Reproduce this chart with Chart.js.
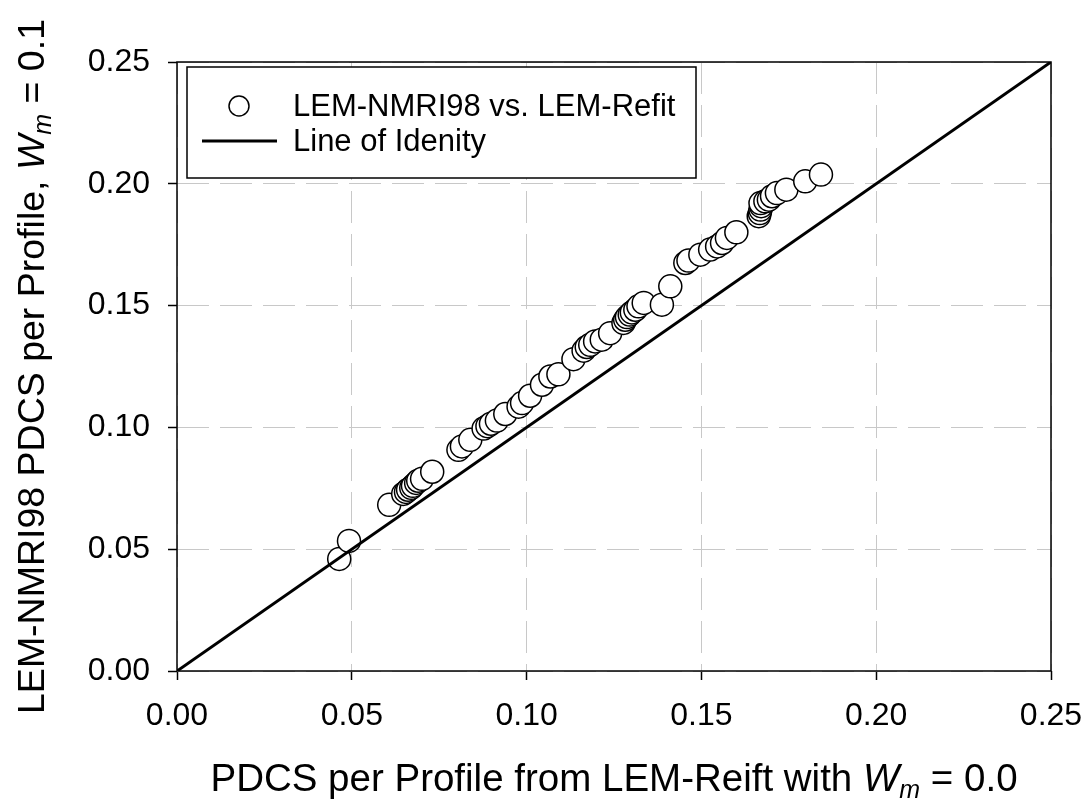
<!DOCTYPE html>
<html><head><meta charset="utf-8">
<script src="https://cdn.jsdelivr.net/npm/chart.js@4.4.0/dist/chart.umd.min.js"></script>
<style>html,body{margin:0;padding:0;background:#fff}#wrap{width:1090px;height:805px}</style>
</head><body><div id="wrap"><canvas id="c" width="1090" height="805"></canvas></div>
<script>
const xValues = [0.0464,0.0492,0.0607,0.0647,0.0655,0.0661,0.0670,0.0675,0.0684,0.0690,0.0701,0.0730,
  0.0805,0.0815,0.0839,0.0877,0.0888,0.0898,0.0915,0.0939,0.0977,0.0987,0.1010,0.1044,0.1068,0.1091,0.1134,
  0.1163,0.1172,0.1182,0.1196,0.1215,0.1239,0.1277,0.1282,0.1287,0.1295,0.1301,0.1311,0.1320,0.1335,0.1387,0.1411,
  0.1454,0.1463,0.1497,0.1525,0.1545,0.1559,0.1573,0.1600,
  0.1664,0.1667,0.1669,0.1671,0.1669,0.1683,0.1693,0.1702,0.1716,0.1743,0.1797,0.1842];
const yValues = [0.0460,0.0534,0.0682,0.0727,0.0735,0.0744,0.0752,0.0760,0.0772,0.0781,0.0789,0.0818,
  0.0908,0.0922,0.0949,0.0995,0.1005,0.1015,0.1028,0.1055,0.1085,0.1100,0.1130,0.1175,0.1209,0.1218,0.1280,
  0.1315,0.1330,0.1339,0.1353,0.1360,0.1387,0.1429,0.1442,0.1453,0.1463,0.1472,0.1483,0.1497,0.1511,0.1504,0.1579,
  0.1675,0.1685,0.1709,0.1730,0.1743,0.1757,0.1778,0.1801,
  0.1867,0.1880,0.1894,0.1908,0.1921,0.1928,0.1935,0.1949,0.1962,0.1976,0.2010,0.2038];
const identityX = [0, 0.25];
const identityY = [0, 0.25];
const tickValues = [0, 0.05, 0.10, 0.15, 0.20, 0.25];
const seriesLabels = ['LEM-NMRI98 vs. LEM-Refit', 'Line of Idenity'];
const xTitleParts = ['PDCS per Profile from LEM-Reift with ', 'W', 'm', ' = 0.0'];
const yTitleParts = ['LEM-NMRI98 PDCS per Profile, ', 'W', 'm', ' = 0.1'];

const FAM = '"Liberation Sans", Arial, sans-serif';
const TICK_SIZE = 32, LEG_SIZE = 31;

function drawParts(ctx, parts, cx, by, size) {
  const sub = Math.round(size * 0.66);
  const fonts = [
    `${size}px ${FAM}`,
    `italic ${size}px ${FAM}`,
    `italic ${sub}px ${FAM}`,
    `${size}px ${FAM}`
  ];
  const offs = [0, 0, 7, 0];
  let total = 0; const w = [];
  parts.forEach((p, i) => { ctx.font = fonts[i]; w[i] = ctx.measureText(p).width; total += w[i]; });
  let x = cx - total / 2;
  ctx.fillStyle = '#000'; ctx.textAlign = 'left'; ctx.textBaseline = 'alphabetic';
  parts.forEach((p, i) => { ctx.font = fonts[i]; ctx.fillText(p, x, by + offs[i]); x += w[i]; });
}

const decor = {
  id: 'decor',
  afterDatasetsDraw(chart) {
    const {ctx, chartArea: a} = chart;
    ctx.save();
    ctx.strokeStyle = '#000'; ctx.lineWidth = 1.5;
    ctx.strokeRect(a.left, a.top, a.right - a.left, a.bottom - a.top);
    // legend
    const lx = 187, ly = 67, lw = 509, lh = 111;
    ctx.fillStyle = '#fff'; ctx.fillRect(lx, ly, lw, lh);
    ctx.strokeRect(lx, ly, lw, lh);
    ctx.beginPath(); ctx.arc(239, 106, 10, 0, Math.PI * 2);
    ctx.fillStyle = '#fff'; ctx.fill(); ctx.lineWidth = 1.5; ctx.stroke();
    ctx.beginPath(); ctx.moveTo(202, 141); ctx.lineTo(277, 141); ctx.lineWidth = 3; ctx.stroke();
    ctx.fillStyle = '#000'; ctx.font = `${LEG_SIZE}px ${FAM}`;
    ctx.textAlign = 'left'; ctx.textBaseline = 'alphabetic';
    ctx.fillText(seriesLabels[0], 293, 116);
    ctx.fillText(seriesLabels[1], 293, 151);
    // axis titles
    const cx = (a.left + a.right) / 2, cy = (a.top + a.bottom) / 2;
    drawParts(ctx, xTitleParts, cx, 791, 38.5);
    ctx.translate(44, cy); ctx.rotate(-Math.PI / 2);
    drawParts(ctx, yTitleParts, 0, 0, 37.5);
    ctx.restore();
  }
};

const gridCommon = {
  color: '#c8c8c8', lineWidth: 1,
  tickColor: '#000', tickLength: 9, tickWidth: 1.5, tickBorderDash: []
};

new Chart(document.getElementById('c'), {
  type: 'scatter',
  data: {
    datasets: [
      {
        type: 'line', label: seriesLabels[1], order: 0,
        data: identityX.map((x, i) => ({x, y: identityY[i]})),
        borderColor: '#000', borderWidth: 3, pointRadius: 0, fill: false, tension: 0
      },
      {
        label: seriesLabels[0], order: 1,
        data: xValues.map((x, i) => ({x, y: yValues[i]})),
        pointRadius: 11.5, pointHoverRadius: 11.5,
        backgroundColor: '#fff', borderColor: '#000', borderWidth: 1.5
      }
    ]
  },
  options: {
    responsive: false, animation: false, devicePixelRatio: 1,
    layout: {padding: {left: 0, right: 39, top: 62, bottom: 0}},
    plugins: {legend: {display: false}, tooltip: {enabled: false}},
    scales: {
      x: {
        type: 'linear', min: 0, max: 0.25,
        afterFit: s => { s.height = 134; s.paddingLeft = 0; s.paddingRight = 0; },
        afterBuildTicks: s => { s.ticks = tickValues.map(v => ({value: v})); },
        ticks: {color: '#000', padding: 17, font: {family: FAM, size: TICK_SIZE}, maxRotation: 0,
                callback: v => v.toFixed(2)},
        grid: gridCommon,
        border: {display: false, dash: [32, 11]}
      },
      y: {
        type: 'linear', min: 0, max: 0.25,
        afterFit: s => { s.width = 177; s.paddingTop = 0; s.paddingBottom = 0; },
        afterBuildTicks: s => { s.ticks = tickValues.map(v => ({value: v})); },
        ticks: {color: '#000', padding: 18, font: {family: FAM, size: TICK_SIZE},
                callback: v => v.toFixed(2)},
        grid: gridCommon,
        border: {display: false, dash: [32, 11]}
      }
    }
  },
  plugins: [decor]
});
</script></body></html>
